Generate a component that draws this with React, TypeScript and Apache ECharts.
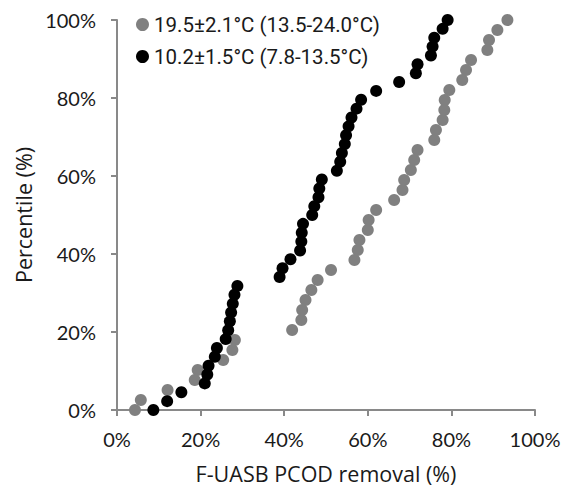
import React, { useEffect, useRef } from "react";
import * as echarts from "echarts";

const seriesNames = ["19.5±2.1°C (13.5-24.0°C)", "10.2±1.5°C (7.8-13.5°C)"];

// Warm period: removal (%) sorted, percentile (%)
const warmRemoval = [
  4.3, 5.7, 12.1, 18.6, 19.3, 25.4, 27.6, 28.2, 41.9, 44.1,
  44.3, 45.1, 46.5, 48.0, 51.2, 56.8, 57.6, 58.0, 60.0, 60.2,
  62.0, 66.3, 68.3, 68.7, 70.3, 71.1, 71.9, 75.9, 76.3, 77.9,
  78.3, 78.4, 79.5, 82.6, 83.5, 84.7, 88.6, 89.0, 91.0, 93.4,
];
const warmPercentile = [
  0, 2.56, 5.13, 7.69, 10.26, 12.82, 15.38, 17.95, 20.51, 23.08,
  25.64, 28.21, 30.77, 33.33, 35.9, 38.46, 41.03, 43.59, 46.15, 48.72,
  51.28, 53.85, 56.41, 58.97, 61.54, 64.1, 66.67, 69.23, 71.79, 74.36,
  76.92, 79.49, 82.05, 84.62, 87.18, 89.74, 92.31, 94.87, 97.44, 100,
];

// Cold period
const coldRemoval = [
  8.7, 12.0, 15.4, 21.0, 21.6, 21.9, 23.4, 23.9, 26.0, 26.6,
  27.0, 27.3, 27.7, 28.1, 28.8, 38.9, 39.6, 41.5, 43.8, 44.1,
  44.2, 44.5, 46.7, 47.2, 48.2, 48.4, 49.0, 52.6, 53.4, 53.8,
  54.5, 54.8, 55.4, 56.1, 57.3, 58.4, 62.0, 67.5, 71.5, 71.9,
  75.1, 75.5, 75.9, 77.9, 79.1,
];
const coldPercentile = [
  0, 2.27, 4.55, 6.82, 9.09, 11.36, 13.64, 15.91, 18.18, 20.45,
  22.73, 25.0, 27.27, 29.55, 31.82, 34.09, 36.36, 38.64, 40.91, 43.18,
  45.45, 47.73, 50.0, 52.27, 54.55, 56.82, 59.09, 61.36, 63.64, 65.91,
  68.18, 70.45, 72.73, 75.0, 77.27, 79.55, 81.82, 84.09, 86.36, 88.64,
  90.91, 93.18, 95.45, 97.73, 100,
];

const xTitle = "F-UASB PCOD removal (%)";
const yTitle = "Percentile (%)";

export default function App() {
  const ref = useRef<HTMLDivElement>(null);
  useEffect(() => {
    if (!ref.current) return;
    const chart = echarts.init(ref.current, null, { renderer: "svg" });
    const axisColor = "#898989";
    const font = "Lato, 'Liberation Sans', sans-serif";
    const titleFont = "'Open Sans', Lato, sans-serif";
    chart.setOption({
      animation: false,
      backgroundColor: "#ffffff",
      grid: { left: 117, right: 38, top: 20, bottom: 84, containLabel: false },
      legend: {
        orient: "vertical",
        left: 131,
        top: 9,
        icon: "circle",
        itemWidth: 13,
        itemHeight: 13,
        itemGap: 11,
        itemTextGap: 8,
        textStyle: { fontFamily: "Roboto, sans-serif", fontSize: 20.5, color: "#1a1a1a" },
        data: seriesNames,
      },
      xAxis: {
        type: "value",
        min: 0,
        max: 100,
        interval: 20,
        name: xTitle,
        nameLocation: "middle",
        nameGap: 52,
        nameTextStyle: { fontFamily: titleFont, fontSize: 21.5, color: "#1a1a1a" },
        axisLine: { show: true, onZero: false, lineStyle: { color: axisColor, width: 2 } },
        axisTick: { show: true, length: 6, lineStyle: { color: axisColor, width: 2 } },
        splitLine: { show: false },
        axisLabel: { formatter: "{value}%", fontFamily: font, fontSize: 20, color: "#1a1a1a", margin: 19 },
      },
      yAxis: {
        type: "value",
        min: 0,
        max: 100,
        interval: 20,
        name: yTitle,
        nameLocation: "middle",
        nameGap: 82,
        nameTextStyle: { fontFamily: titleFont, fontSize: 21.5, color: "#1a1a1a" },
        axisLine: { show: true, onZero: false, lineStyle: { color: axisColor, width: 2 } },
        axisTick: { show: true, length: 6, lineStyle: { color: axisColor, width: 2 } },
        splitLine: { show: false },
        axisLabel: { formatter: "{value}%", fontFamily: font, fontSize: 20, color: "#1a1a1a", margin: 21 },
      },
      series: [
        {
          name: seriesNames[0],
          type: "scatter",
          symbol: "circle",
          symbolSize: 12,
          itemStyle: { color: "#808080", opacity: 1 },
          data: warmRemoval.map((x, i) => [x, warmPercentile[i]]),
        },
        {
          name: seriesNames[1],
          type: "scatter",
          symbol: "circle",
          symbolSize: 12,
          itemStyle: { color: "#000000", opacity: 1 },
          data: coldRemoval.map((x, i) => [x, coldPercentile[i]]),
        },
      ],
    });
    return () => chart.dispose();
  }, []);
  return <div ref={ref} style={{ width: 573, height: 494, margin: -8 }} />;
}
